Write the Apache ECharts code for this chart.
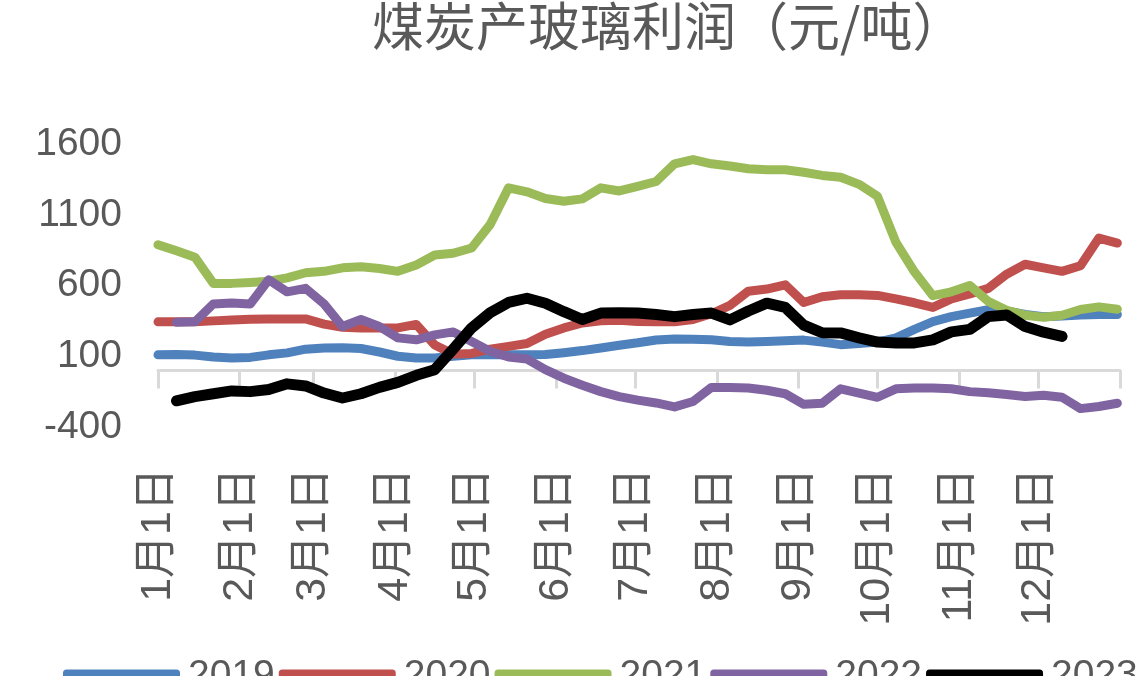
<!DOCTYPE html>
<html>
<head>
<meta charset="utf-8">
<script src="https://cdn.jsdelivr.net/npm/echarts@6/dist/echarts.min.js"></script>
<style>
  html, body { margin: 0; padding: 0; background: #fff; }
  #glass { width: 1146px; height: 676px; }
</style>
</head>
<body>
<div id="glass"></div>
<script>
// day of year for each weekly sample
const weekDays = [0, 7, 14, 21, 28, 35, 42, 49, 56, 63, 70, 77, 84, 91, 98, 105, 112, 119, 126, 133,
  140, 147, 154, 161, 168, 175, 182, 189, 196, 203, 210, 217, 224, 231, 238, 245, 252, 259, 266, 273,
  280, 287, 294, 301, 308, 315, 322, 329, 336, 343, 350, 357, 364];

const monthStarts = [0, 31, 59, 90, 120, 151, 181, 212, 243, 273, 304, 334, 365];
const monthLabels = ['1月1日', '2月1日', '3月1日', '4月1日', '5月1日', '6月1日',
  '7月1日', '8月1日', '9月1日', '10月1日', '11月1日', '12月1日'];

const yearNames = ['2019', '2020', '2021', '2022', '2023'];
const yearColors = ['#4F81BD', '#C0504D', '#9BBB59', '#8064A2', '#000000'];

const profit2019 = [110, 112, 108, 95, 88, 92, 110, 124, 150, 159, 160, 155, 130, 100, 88, 88, 100, 110, 110, 110,
  110, 112, 125, 140, 158, 178, 195, 215, 222, 220, 216, 205, 201, 205, 210, 214, 200, 182, 190, 200,
  230, 290, 345, 380, 405, 430, 420, 395, 380, 385, 392, 395, 395];
const profit2020 = [343, 343, 343, 350, 357, 362, 364, 364, 364, 327, 305, 300, 300, 300, 325, 180, 115, 120, 150, 170,
  190, 255, 300, 335, 350, 355, 345, 343, 343, 360, 400, 460, 560, 575, 605, 480, 520, 534, 534, 530,
  505, 478, 445, 505, 540, 580, 680, 750, 725, 700, 740, 935, 900];
const profit2021 = [888, 845, 800, 615, 615, 622, 630, 654, 690, 700, 725, 732, 720, 700, 745, 815, 828, 865, 1030, 1290,
  1262, 1215, 1195, 1212, 1290, 1268, 1300, 1335, 1460, 1490, 1460, 1445, 1425, 1418, 1418, 1400, 1378, 1365, 1315, 1230,
  905, 697, 528, 555, 600, 488, 425, 390, 375, 390, 430, 449, 432];
const profit2022 = [null, 340, 343, 470, 477, 470, 640, 555, 580, 470, 310, 360, 310, 230, 216, 251, 272, 205, 135, 95,
  80, 5, -55, -105, -150, -185, -210, -230, -258, -220, -120, -120, -124, -140, -165, -240, -232, -130, -160, -190,
  -130, -124, -124, -130, -150, -158, -170, -185, -175, -190, -270, -255, -232];
const profit2023 = [null, -215, -185, -165, -145, -150, -135, -95, -110, -160, -195, -165, -120, -85, -35, 5, 150, 300, 407, 480,
  510, 475, 415, 360, 405, 407, 405, 395, 380, 395, 405, 357, 420, 475, 445, 320, 266, 265, 230, 200,
  194, 194, 216, 272, 290, 380, 392, 310, 270, 240];

const yearValues = [profit2019, profit2020, profit2021, profit2022, profit2023];

const labelFont = '"Liberation Sans", "Noto Sans CJK SC", sans-serif';

const chart = echarts.init(document.getElementById('glass'));

const series = yearNames.map((name, i) => ({
  name: name,
  type: 'line',
  xAxisIndex: 0,
  symbol: 'none',
  smooth: false,
  connectNulls: false,
  lineStyle: { color: yearColors[i], width: i === 4 ? 11 : 9, cap: 'round', join: 'round' },
  itemStyle: { color: yearColors[i] },
  data: yearValues[i].map((v, k) => [weekDays[k], v])
}));

chart.setOption({
  animation: false,
  backgroundColor: '#fff',
  title: {
    text: '煤炭产玻璃利润（元/吨）',
    left: 372,
    top: 0,
    padding: 0,
    textStyle: {
      fontFamily: '"Noto Sans CJK SC", sans-serif',
      fontSize: 52,
      fontWeight: 'normal',
      color: '#595959'
    }
  },
  legend: {
    data: yearNames,
    left: 63,
    top: 657,
    width: 1200,
    padding: 0,
    icon: 'roundRect',
    itemWidth: 117,
    itemHeight: 14,
    itemGap: 4,
    textStyle: { fontFamily: labelFont, fontSize: 39, color: '#595959', padding: [24, 0, 0, 3] }
  },
  grid: {
    left: 158,
    right: 26,
    top: 144,
    bottom: 249,
    containLabel: false,
    outerBoundsMode: 'none'
  },
  xAxis: [
    {
      type: 'value',
      min: 0,
      max: 365,
      position: 'bottom',
      axisLine: { show: true, onZero: true, lineStyle: { color: '#D9D9D9', width: 3 } },
      axisTick: { show: true, length: 18, customValues: monthStarts, lineStyle: { color: '#D9D9D9', width: 3 } },
      axisLabel: { show: false },
      splitLine: { show: false }
    },
    {
      type: 'value',
      min: 0,
      max: 365,
      position: 'bottom',
      axisLine: { show: false, onZero: false },
      axisTick: { show: false },
      splitLine: { show: false },
      axisLabel: {
        show: true,
        rotate: 90,
        margin: 41,
        customValues: monthStarts.slice(0, 12),
        formatter: (v) => monthLabels[monthStarts.indexOf(v)],
        fontFamily: labelFont,
        fontSize: 43,
        color: '#595959'
      }
    }
  ],
  yAxis: {
    type: 'value',
    min: -400,
    max: 1600,
    interval: 500,
    axisLine: { show: false },
    axisTick: { show: false },
    splitLine: { show: false },
    axisLabel: {
      margin: 36,
      formatter: (v) => String(v),
      fontFamily: labelFont,
      fontSize: 39,
      color: '#595959'
    }
  },
  series: series
});
</script>
</body>
</html>
